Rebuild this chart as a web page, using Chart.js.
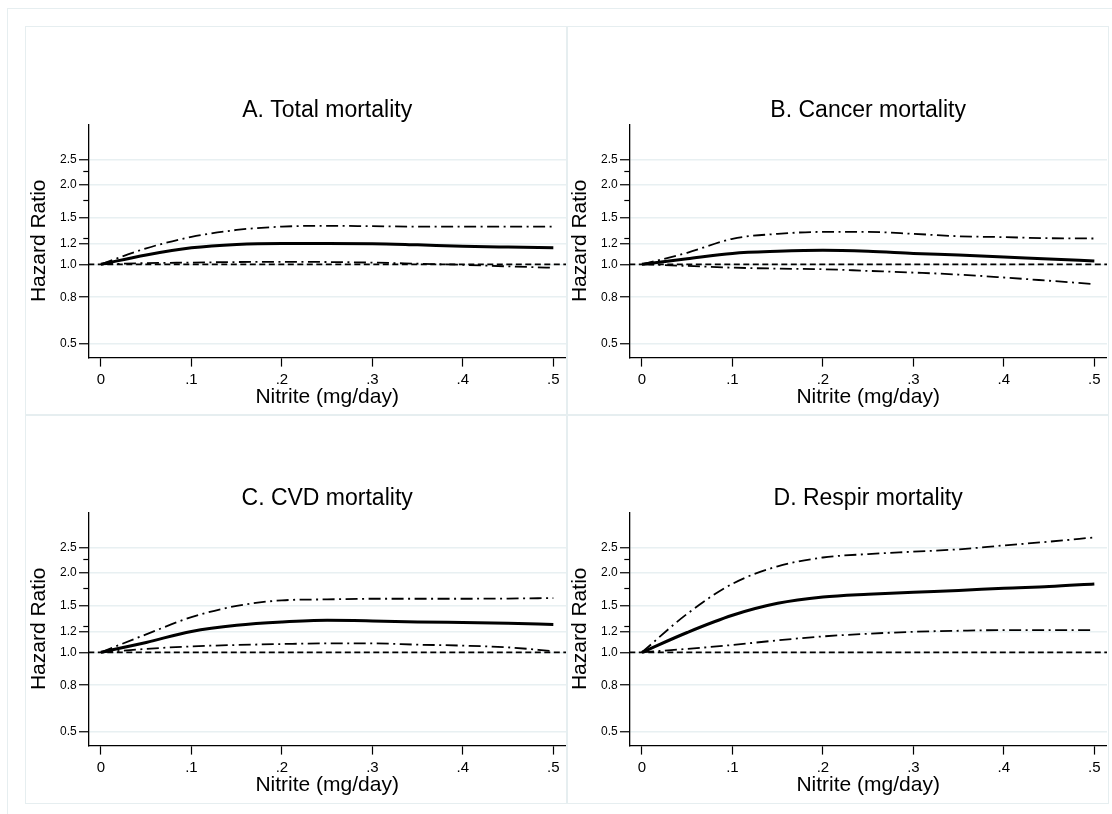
<!DOCTYPE html>
<html>
<head>
<meta charset="utf-8">
<script src="https://cdn.jsdelivr.net/npm/chart.js@4.4.1/dist/chart.umd.min.js"></script>
<style>
  body { margin: 0; background: #fff; }
  #page { position: relative; width: 1112px; height: 814px; overflow: hidden; background: #fff; }
  .frame { position: absolute; border: 1.5px solid #e6eef0; box-sizing: border-box; }
  canvas { position: absolute; }
</style>
</head>
<body>
<div id="page">
  <div class="frame" style="left:7px;top:8px;width:1140px;height:850px"></div>
  <div class="frame" style="left:24.5px;top:25.5px;width:543px;height:390px"></div>
  <div class="frame" style="left:566px;top:25.5px;width:543px;height:390px"></div>
  <div class="frame" style="left:24.5px;top:414px;width:543px;height:390px"></div>
  <div class="frame" style="left:566px;top:414px;width:543px;height:390px"></div>
  <canvas id="panelA" width="541" height="388" style="left:25px;top:26px"></canvas>
  <canvas id="panelB" width="541" height="388" style="left:566px;top:26px"></canvas>
  <canvas id="panelC" width="541" height="388" style="left:25px;top:414px"></canvas>
  <canvas id="panelD" width="541" height="388" style="left:566px;top:414px"></canvas>
</div>
<script>
// nitrite intake (mg/day) at which the curves were read
const nitrite = [0, 0.05, 0.1, 0.15, 0.2, 0.25, 0.3, 0.35, 0.4, 0.45, 0.5];

// A. Total mortality
const totalHR    = [1.0, 1.085, 1.155, 1.19, 1.20, 1.20, 1.198, 1.185, 1.17, 1.162, 1.156];
const totalUpper = [1.0, 1.15, 1.27, 1.35, 1.39, 1.40, 1.395, 1.39, 1.39, 1.39, 1.39];
const totalLower = [1.0, 1.01, 1.015, 1.02, 1.022, 1.02, 1.015, 1.005, 0.995, 0.982, 0.97];

// B. Cancer mortality
const cancerHR    = [1.0, 1.05, 1.10, 1.12, 1.13, 1.12, 1.10, 1.084, 1.066, 1.047, 1.03];
const cancerUpper = [1.0, 1.106, 1.25, 1.305, 1.327, 1.327, 1.305, 1.278, 1.268, 1.256, 1.253];
const cancerLower = [1.0, 0.986, 0.971, 0.963, 0.958, 0.944, 0.93, 0.914, 0.891, 0.866, 0.841];

// C. CVD mortality
const cvdHR    = [1.0, 1.09, 1.20, 1.267, 1.304, 1.323, 1.316, 1.304, 1.297, 1.29, 1.275];
const cvdUpper = [1.0, 1.17, 1.36, 1.50, 1.575, 1.588, 1.597, 1.597, 1.597, 1.60, 1.606];
const cvdLower = [1.0, 1.03, 1.053, 1.066, 1.075, 1.081, 1.081, 1.069, 1.06, 1.044, 1.01];

// D. Respir mortality
const respHR    = [1.0, 1.189, 1.382, 1.534, 1.621, 1.662, 1.692, 1.716, 1.752, 1.777, 1.818];
const respUpper = [1.0, 1.40, 1.82, 2.12, 2.29, 2.36, 2.41, 2.46, 2.545, 2.63, 2.73];
const respLower = [1.0, 1.03, 1.066, 1.11, 1.149, 1.176, 1.196, 1.207, 1.214, 1.214, 1.214];

const refHR = 1;

// axes
const xMin = -0.014, xMax = 0.514;
const xTickValues = [0, 0.1, 0.2, 0.3, 0.4, 0.5];
const xTickLabels = ['0', '.1', '.2', '.3', '.4', '.5'];
const yMin = 0.4435, yMax = 3.40;
const yTickValues = [0.5, 0.75, 1, 1.2, 1.5, 2, 2.5];
const yTickLabels = ['0.5', '0.8', '1.0', '1.2', '1.5', '2.0', '2.5'];
const yMinorTicks = [1.25, 1.75, 2.25];

const family = '"Liberation Sans", Arial, Helvetica, sans-serif';
Chart.defaults.font.family = family;
Chart.defaults.color = '#000';

function toXY(values) {
    return values.map((v, i) => ({ x: nitrite[i], y: v }));
}

function ciLine(values) {
    return {
        data: toXY(values),
        borderColor: '#000',
        borderWidth: 1.8,
        borderDash: [12, 4.5, 2, 4.5],
        pointRadius: 0,
        cubicInterpolationMode: 'monotone',
        fill: false
    };
}

function panel(id, title, hr, upper, lower) {
    const ctx = document.getElementById(id).getContext('2d');
    return new Chart(ctx, {
        type: 'line',
        data: {
            datasets: [
                {
                    data: [{ x: xMin, y: refHR }, { x: xMax, y: refHR }],
                    borderColor: '#000',
                    borderWidth: 1.8,
                    borderDash: [6, 3.5],
                    pointRadius: 0
                },
                ciLine(lower),
                ciLine(upper),
                {
                    data: toXY(hr),
                    borderColor: '#000',
                    borderWidth: 3,
                    pointRadius: 0,
                    cubicInterpolationMode: 'monotone'
                }
            ]
        },
        options: {
            responsive: false,
            animation: false,
            devicePixelRatio: 1,
            layout: { padding: 0 },
            plugins: {
                legend: { display: false },
                tooltip: { enabled: false },
                title: {
                    display: true,
                    text: title,
                    fullSize: false,
                    color: '#000',
                    font: { family: family, size: 23, weight: 'normal', lineHeight: 1 },
                    padding: { top: 73, bottom: 2.3 }
                }
            },
            scales: {
                x: {
                    type: 'linear',
                    min: xMin,
                    max: xMax,
                    afterBuildTicks: s => { s.ticks = xTickValues.map(v => ({ value: v })); },
                    afterFit: s => { s.height = 56.7; },
                    ticks: {
                        autoSkip: false,
                        maxRotation: 0,
                        padding: 4.5,
                        color: '#000',
                        font: { size: 15 },
                        callback: (v, i) => xTickLabels[i]
                    },
                    grid: { drawOnChartArea: false, tickLength: 9.3, tickColor: '#000', tickWidth: 1.2 },
                    border: { color: '#000', width: 1.3 },
                    title: {
                        display: true,
                        text: 'Nitrite (mg/day)',
                        color: '#000',
                        font: { size: 21, lineHeight: 1 },
                        padding: { top: 0, bottom: 6 }
                    }
                },
                y: {
                    type: 'logarithmic',
                    min: yMin,
                    max: yMax,
                    weight: 1,
                    afterBuildTicks: s => { s.ticks = yTickValues.map(v => ({ value: v })); },
                    afterFit: s => { s.width = 63.3; },
                    ticks: {
                        autoSkip: false,
                        padding: 2.3,
                        color: '#000',
                        font: { size: 12 },
                        callback: (v, i) => yTickLabels[i]
                    },
                    grid: { color: '#e8f0f2', lineWidth: 1.5, tickLength: 9.3, tickColor: '#000', tickWidth: 1.2 },
                    border: { color: '#000', width: 1.3 },
                    title: {
                        display: true,
                        text: 'Hazard Ratio',
                        color: '#000',
                        font: { size: 21, lineHeight: 1 },
                        padding: { top: 3.3, bottom: 0 }
                    }
                },
                yMinor: {
                    type: 'logarithmic',
                    position: 'left',
                    weight: -1,
                    min: yMin,
                    max: yMax,
                    afterBuildTicks: s => { s.ticks = yMinorTicks.map(v => ({ value: v })); },
                    afterFit: s => { s.width = 0; },
                    ticks: { display: false },
                    grid: { drawOnChartArea: false, tickLength: 5, tickColor: '#000', tickWidth: 1.2 },
                    border: { display: false }
                }
            }
        }
    });
}

panel('panelA', 'A. Total mortality', totalHR, totalUpper, totalLower);
panel('panelB', 'B. Cancer mortality', cancerHR, cancerUpper, cancerLower);
panel('panelC', 'C. CVD mortality', cvdHR, cvdUpper, cvdLower);
panel('panelD', 'D. Respir mortality', respHR, respUpper, respLower);
</script>
</body>
</html>
